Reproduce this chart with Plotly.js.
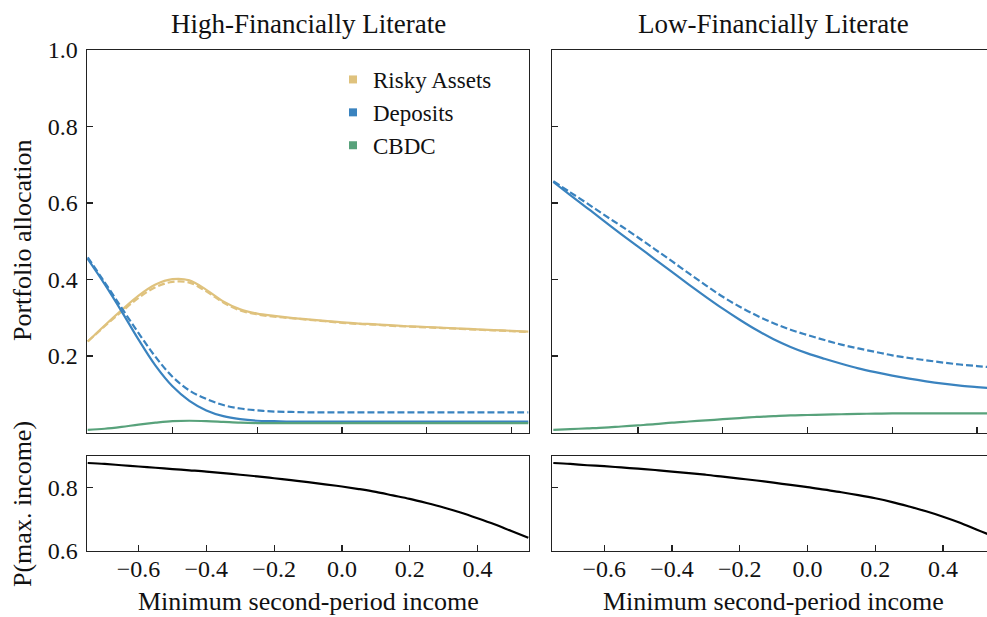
<!DOCTYPE html>
<html><head><meta charset="utf-8">
<script src="https://cdn.plot.ly/plotly-3.0.1.min.js"></script>
<style>html,body{margin:0;padding:0;background:#fff}#chart{width:987px;height:617px}</style>
</head><body><div id="chart"></div>
<script>
// Minimum second-period income (x grid)
const income = [-0.75,-0.70,-0.65,-0.60,-0.55,-0.50,-0.45,-0.40,-0.35,-0.30,-0.25,-0.20,-0.15,-0.10,-0.05,0.00,0.05,0.10,0.15,0.20,0.25,0.30,0.35,0.40,0.45,0.50,0.55];

// High-Financially Literate
const highRisky       = [0.238,0.280,0.320,0.358,0.387,0.401,0.398,0.373,0.343,0.322,0.311,0.305,0.300,0.296,0.292,0.288,0.285,0.283,0.280,0.278,0.276,0.274,0.272,0.270,0.268,0.266,0.264];
const highRiskyAlt    = [0.238,0.278,0.316,0.352,0.380,0.394,0.392,0.369,0.340,0.319,0.309,0.303,0.299,0.295,0.291,0.287,0.284,0.282,0.279,0.277,0.275,0.273,0.271,0.269,0.267,0.265,0.263];
const highDeposits    = [0.454,0.388,0.317,0.243,0.175,0.121,0.083,0.058,0.043,0.035,0.031,0.030,0.029,0.029,0.029,0.029,0.029,0.029,0.029,0.029,0.029,0.029,0.029,0.029,0.029,0.029,0.029];
const highDepositsAlt = [0.458,0.393,0.326,0.260,0.198,0.146,0.110,0.088,0.072,0.063,0.058,0.055,0.054,0.053,0.053,0.053,0.053,0.053,0.053,0.053,0.053,0.053,0.053,0.053,0.053,0.053,0.053];
const highCBDC        = [0.007,0.010,0.015,0.021,0.026,0.030,0.031,0.030,0.028,0.026,0.025,0.025,0.025,0.025,0.025,0.025,0.025,0.025,0.025,0.025,0.025,0.025,0.025,0.025,0.025,0.025,0.025];
const highPMax        = [0.877,0.874,0.870,0.866,0.862,0.858,0.854,0.850,0.845,0.840,0.835,0.829,0.823,0.817,0.810,0.803,0.795,0.786,0.775,0.764,0.751,0.737,0.721,0.703,0.684,0.663,0.642];

// Low-Financially Literate
const lowDeposits     = [0.655,0.621,0.587,0.553,0.519,0.486,0.453,0.420,0.387,0.355,0.324,0.295,0.268,0.244,0.224,0.207,0.193,0.180,0.168,0.158,0.149,0.141,0.134,0.128,0.123,0.119,0.115];
const lowDepositsAlt  = [0.657,0.628,0.599,0.569,0.540,0.510,0.479,0.448,0.416,0.385,0.355,0.329,0.306,0.286,0.269,0.255,0.242,0.230,0.220,0.211,0.202,0.195,0.189,0.183,0.178,0.174,0.170];
const lowCBDC         = [0.007,0.009,0.011,0.013,0.016,0.019,0.022,0.026,0.029,0.032,0.035,0.038,0.041,0.043,0.045,0.046,0.047,0.048,0.049,0.0495,0.050,0.050,0.050,0.050,0.050,0.050,0.050];
const lowPMax         = [0.877,0.874,0.870,0.867,0.863,0.859,0.855,0.850,0.845,0.840,0.834,0.828,0.822,0.815,0.808,0.801,0.793,0.785,0.776,0.766,0.754,0.740,0.725,0.708,0.689,0.667,0.646];

// Labels
const panelTitles = ['High-Financially Literate','Low-Financially Literate'];
const xAxisTitle = 'Minimum second-period income';
const yAxisTitles = ['Portfolio allocation','P(max. income)'];
const seriesNames = ['Risky Assets','Deposits','CBDC'];
const colors = ['#dfc27d','#3a83bf','#58a27b'];
const xTickVals = [-0.6,-0.4,-0.2,0,0.2,0.4];
const xTickText = ['\u22120.6','\u22120.4','\u22120.2','0.0','0.2','0.4'];
const topXTickVals = [-0.5,-0.25,0,0.25,0.5];
const topYTickVals = [0.2,0.4,0.6,0.8,1.0];
const topYTickText = ['0.2','0.4','0.6','0.8','1.0'];
const botYTickVals = [0.6,0.8];
const botYTickText = ['0.6','0.8'];

const FONT = '"Liberation Serif", serif';
const W = 987, H = 617;
const px = v => v / W;
const py = v => (H - v) / H;

function line(x, y, color, dash, xa, ya) {
  return {x: x, y: y, mode: 'lines', xaxis: xa, yaxis: ya, showlegend: false, hoverinfo: 'skip',
    line: {color: color, width: 2.2, dash: dash ? '7px,3px' : 'solid', shape: 'spline', smoothing: 1}};
}

const traces = [
  line(income, highRisky, colors[0], false, 'x', 'y'),
  line(income, highRiskyAlt, colors[0], true, 'x', 'y'),
  line(income, highDeposits, colors[1], false, 'x', 'y'),
  line(income, highDepositsAlt, colors[1], true, 'x', 'y'),
  line(income, highCBDC, colors[2], false, 'x', 'y'),
  line(income, lowDeposits, colors[1], false, 'x2', 'y2'),
  line(income, lowDepositsAlt, colors[1], true, 'x2', 'y2'),
  line(income, lowCBDC, colors[2], false, 'x2', 'y2'),
  line(income, highPMax, '#000000', false, 'x3', 'y3'),
  line(income, lowPMax, '#000000', false, 'x4', 'y4')
];
seriesNames.forEach((n, i) => traces.push({
  x: [null], y: [null], mode: 'markers', name: n, xaxis: 'x', yaxis: 'y', showlegend: true,
  marker: {symbol: 'square', size: 8, color: colors[i]}
}));

const tickFont = {family: FONT, size: 24, color: '#111'};
const base = {showgrid: false, zeroline: false, showline: true, linecolor: '#222', linewidth: 1.2,
  ticks: 'inside', ticklen: 6, tickwidth: 1.2, tickcolor: '#222', tickfont: tickFont, fixedrange: true};

const leftDom = [px(86.7), px(529)];
const rightDom = [px(552.3), 1];
const topDom = [py(432.6), py(50)];
const botDom = [py(551), py(455.7)];
const leftRange = [-0.753, 0.552];
const rightRange = [-0.753, -0.753 + (987 - 552.3) / 338.9];

function ann(text, x, y, size, angle) {
  return {text: text, x: px(x), y: py(y), xref: 'paper', yref: 'paper', showarrow: false,
    textangle: angle || 0, xanchor: 'center', yanchor: 'middle', font: {family: FONT, size: size, color: '#111'}};
}

const layout = {
  width: W, height: H, margin: {l: 0, r: 0, t: 0, b: 0},
  paper_bgcolor: '#fff', plot_bgcolor: '#fff',
  font: {family: FONT, color: '#111'},
  showlegend: true,
  legend: {x: px(333), y: py(58), xanchor: 'left', yanchor: 'top', bgcolor: 'rgba(0,0,0,0)',
    font: {family: FONT, size: 23, color: '#111'}, traceorder: 'normal', itemwidth: 30},
  xaxis: Object.assign({}, base, {domain: leftDom, range: leftRange, anchor: 'y', tickvals: topXTickVals, showticklabels: false, mirror: true}),
  yaxis: Object.assign({}, base, {domain: topDom, range: [0, 1], anchor: 'x', tickvals: topYTickVals, ticktext: topYTickText, mirror: true, ticklabelstandoff: 3}),
  xaxis2: Object.assign({}, base, {domain: rightDom, range: rightRange, anchor: 'y2', tickvals: topXTickVals, showticklabels: false, mirror: true}),
  yaxis2: Object.assign({}, base, {domain: topDom, range: [0, 1], anchor: 'x2', tickvals: topYTickVals, showticklabels: false, mirror: false}),
  xaxis3: Object.assign({}, base, {domain: leftDom, range: leftRange, anchor: 'y3', tickvals: xTickVals, ticktext: xTickText, mirror: true, ticklabelstandoff: -4}),
  yaxis3: Object.assign({}, base, {domain: botDom, range: [0.6, 0.9], anchor: 'x3', tickvals: botYTickVals, ticktext: botYTickText, mirror: true, ticklabelstandoff: 3}),
  xaxis4: Object.assign({}, base, {domain: rightDom, range: rightRange, anchor: 'y4', tickvals: xTickVals, ticktext: xTickText, mirror: true, ticklabelstandoff: -4}),
  yaxis4: Object.assign({}, base, {domain: botDom, range: [0.6, 0.9], anchor: 'x4', tickvals: botYTickVals, showticklabels: false, mirror: false}),
  annotations: [
    ann(panelTitles[0], 308, 24, 27),
    ann(panelTitles[1], 773, 24, 27),
    ann(xAxisTitle, 308, 601, 26),
    ann(xAxisTitle, 773, 601, 26),
    ann(yAxisTitles[0], 22, 241, 26, -90),
    ann(yAxisTitles[1], 22, 504, 26, -90)
  ]
};

Plotly.newPlot('chart', traces, layout, {staticPlot: true, displayModeBar: false});
</script>
</body></html>
